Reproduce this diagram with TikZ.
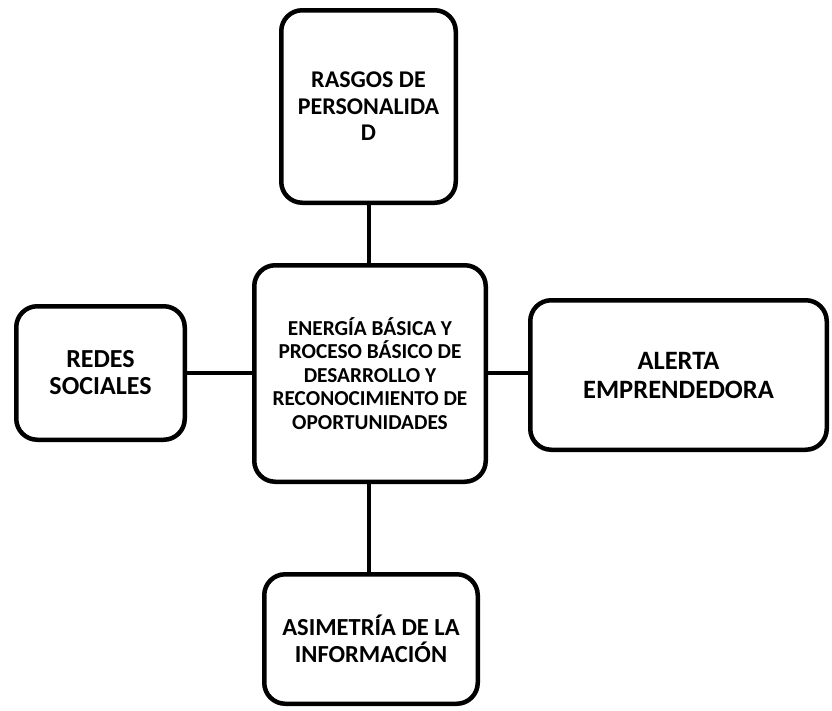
\documentclass[tikz,border=0pt]{standalone}
\usepackage{fontspec}
\setmainfont{Carlito}
\begin{document}
\begin{tikzpicture}[x=1pt,y=-1pt,
  box/.style={draw=black, line width=4.5pt, rounded corners=21pt, fill=white,
    align=center, font=\bfseries, inner sep=0pt},
  link/.style={draw=black, line width=4pt}]
\useasboundingbox (0,0) rectangle (832,710);
\node[box, minimum width=174.5pt, minimum height=192.5pt,
  font=\fontsize{24}{26.5}\selectfont\bfseries] (top) at (368.5,106.5) {RASGOS DE\\PERSONALIDA\\D};
\node[box, minimum width=231.5pt, minimum height=216.5pt,
  font=\fontsize{21.3}{23.5}\selectfont\bfseries] (mid) at (370,373.5)
  {ENERGÍA BÁSICA Y\\PROCESO BÁSICO DE\\DESARROLLO Y\\RECONOCIMIENTO DE\\OPORTUNIDADES};
\node[box, minimum width=168.5pt, minimum height=133.5pt,
  font=\fontsize{26}{27}\selectfont\bfseries] (left) at (100.5,373) {REDES\\SOCIALES};
\node[box, minimum width=296.5pt, minimum height=149.5pt,
  font=\fontsize{26.5}{29}\selectfont\bfseries] (right) at (678.5,375) {ALERTA\\EMPRENDEDORA};
\node[box, minimum width=213.5pt, minimum height=129.5pt,
  font=\fontsize{24.5}{26.5}\selectfont\bfseries] (bot) at (371,639) {ASIMETRÍA DE LA\\INFORMACIÓN};
\draw[link] (top.south) -- (top.south |- mid.north);
\draw[link] (bot.north -| top.south) -- (mid.south -| top.south);
\draw[link] (left.east) -- (left.east -| mid.west);
\draw[link] (mid.east |- left.east) -- (right.west |- left.east);
\end{tikzpicture}
\end{document}
